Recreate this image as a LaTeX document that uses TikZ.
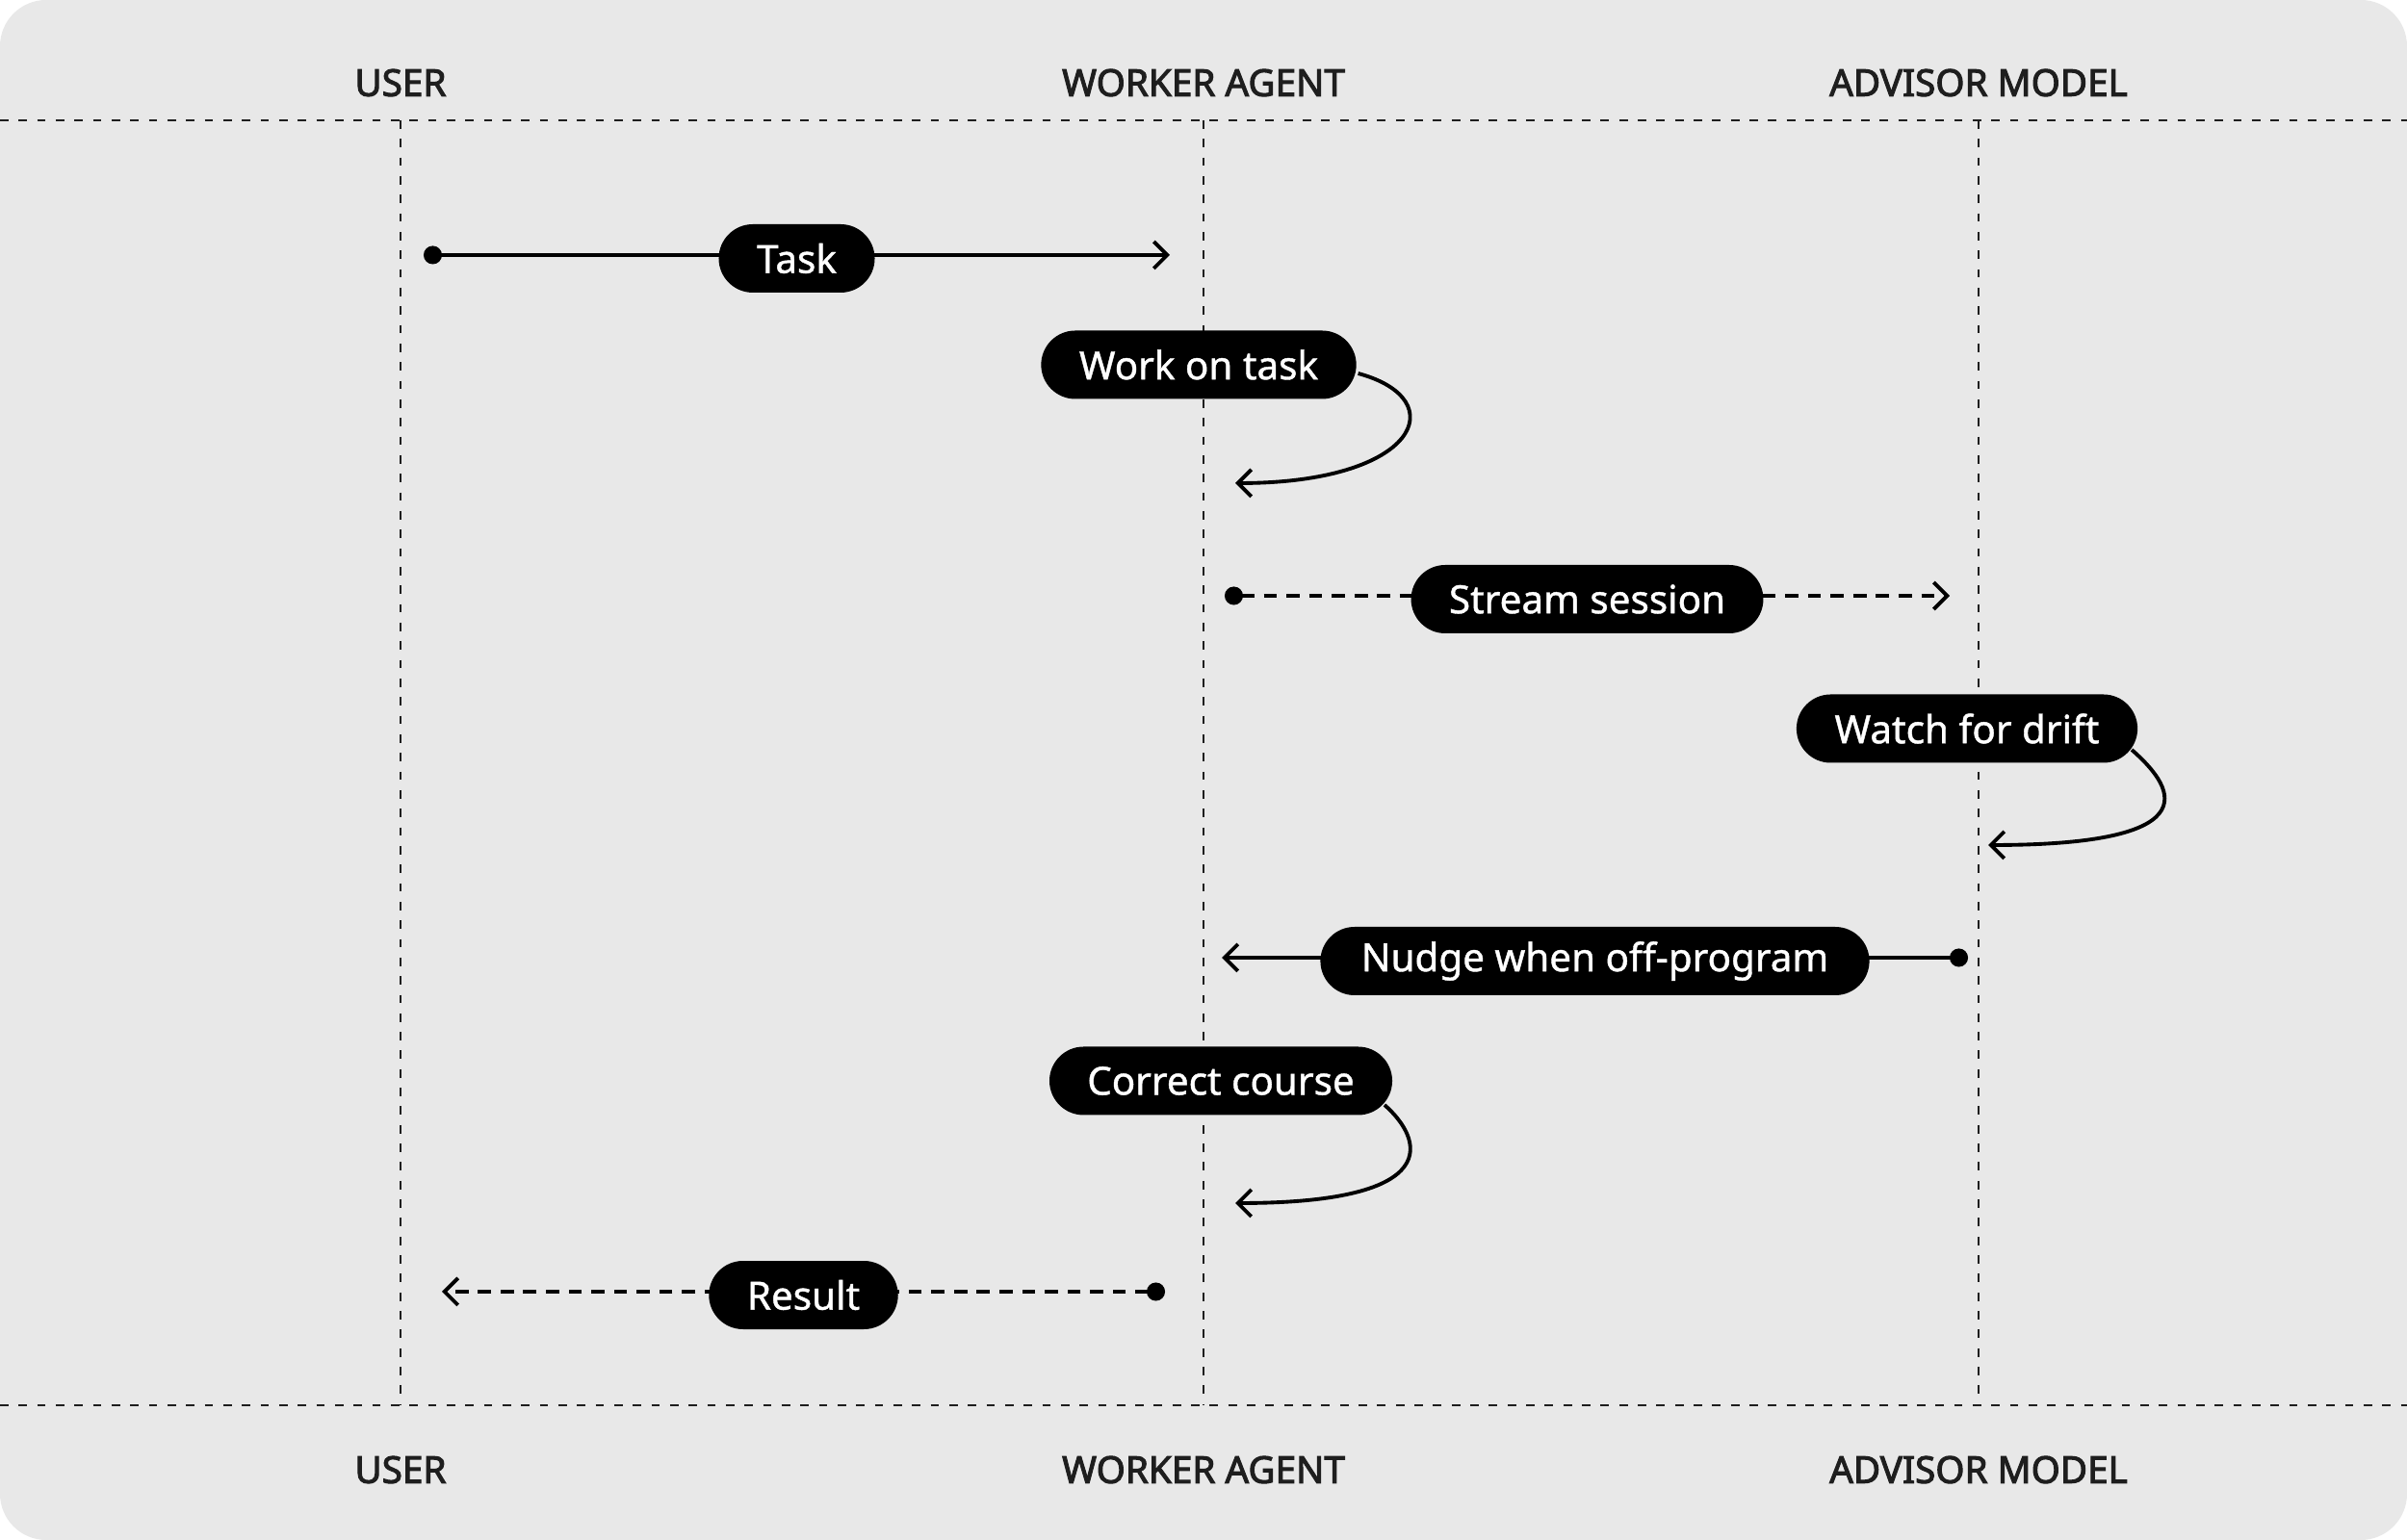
\documentclass[tikz,border=0pt]{standalone}
\usepackage{fontspec}
\setmainfont{Noto Sans}
\newfontfamily\lanefont{Noto Sans}[FakeBold=2.6]
\newfontfamily\pillfont{Noto Sans}[FakeBold=1.0]
\usetikzlibrary{arrows.meta, shapes.misc}

\definecolor{bg}{HTML}{E8E8E8}
\definecolor{ink}{HTML}{1E1E1E}

\begin{document}
\begin{tikzpicture}[>={Straight Barb[length=1.4mm, width=2.8mm]}, line width=1.1pt]
	\tikzstyle{pill}=[rounded rectangle, fill=black, text=white, minimum height=0.71cm, inner xsep=0.36cm, inner ysep=0pt, font=\pillfont\fontsize{11.5}{14}\selectfont]
	\tikzstyle{lane}=[text=ink, font=\lanefont\fontsize{11}{13}\selectfont]
	\tikzstyle{life}=[draw=ink, line width=0.6pt, dash pattern=on 2.5pt off 3pt]
	\tikzstyle{msg}=[{Circle[length=5.4pt]}->]
	\tikzstyle{reply}=[{Circle[length=5.4pt]}->, dash pattern=on 3.9pt off 2.8pt]

	\useasboundingbox (0, 0) rectangle (25, 16);
	\fill[bg, rounded corners=0.48cm] (0, 0) rectangle (25, 16);

	% lanes, top and bottom
	\node[lane] at (4.16, 15.14)  (userT)  {USER};
	\node[lane] at (12.50, 15.14) (workerT) {WORKER AGENT};
	\node[lane] at (20.55, 15.14) (advisorT) {ADVISOR MODEL};
	\node[lane] at (4.16, 0.73)   (userB)  {USER};
	\node[lane] at (12.50, 0.73)  (workerB) {WORKER AGENT};
	\node[lane] at (20.55, 0.73)  (advisorB) {ADVISOR MODEL};

	\coordinate (topL) at (0, 14.75);
	\coordinate (topR) at (25, 14.75);
	\coordinate (botL) at (0, 1.40);
	\coordinate (botR) at (25, 1.40);
	\coordinate (userU) at (4.16, 14.75);
	\coordinate (userD) at (4.16, 1.40);
	\coordinate (workerU) at (12.50, 14.75);
	\coordinate (workerD) at (12.50, 1.40);
	\coordinate (advisorU) at (20.55, 14.75);
	\coordinate (advisorD) at (20.55, 1.40);

	\path[life]
	(topL) edge (topR)
	(botL) edge (botR)
	(userU) edge (userD)
	(workerU) edge (workerD)
	(advisorU) edge (advisorD);

	% messages
	\coordinate (taskA) at (4.40, 13.35);
	\coordinate (taskB) at (12.15, 13.35);
	\coordinate (streamA) at (12.72, 9.81);
	\coordinate (streamB) at (20.25, 9.81);
	\coordinate (nudgeA) at (20.44, 6.05);
	\coordinate (nudgeB) at (12.69, 6.05);
	\coordinate (resultA) at (12.10, 2.58);
	\coordinate (resultB) at (4.59, 2.58);

	\path
	(taskA) edge[msg] node[pill, yshift=-1pt] (task) {Task} (taskB)
	(streamA) edge[reply] node[pill, yshift=-1pt] (stream) {Stream session} (streamB)
	(nudgeA) edge[msg] node[pill, yshift=-1pt] (nudge) {Nudge when off-program} (nudgeB)
	(resultA) edge[reply] node[pill, yshift=-1pt] (result) {Result} (resultB);

	% self loops
	\node[pill] at (12.45, 12.21) (work) {Work on task};
	\node[pill] at (20.43, 8.43)  (drift) {Watch for drift};
	\node[pill] at (12.68, 4.77)  (correct) {Correct course};

	\coordinate (workE) at (12.83, 10.98);
	\coordinate (driftE) at (20.65, 7.22);
	\coordinate (correctE) at (12.83, 3.50);

	\draw[->] ([yshift=-0.09cm]work.east) .. controls +(1.0, -0.27) and +(1.9, 0) .. (workE);
	\draw[->] ([shift={(-0.08, -0.22)}]drift.east) .. controls +(0.4, -0.35) and +(2.4, 0) .. (driftE);
	\draw[->] ([shift={(-0.1, -0.25)}]correct.east) .. controls +(0.4, -0.35) and +(2.2, 0) .. (correctE);
\end{tikzpicture}
\end{document}
